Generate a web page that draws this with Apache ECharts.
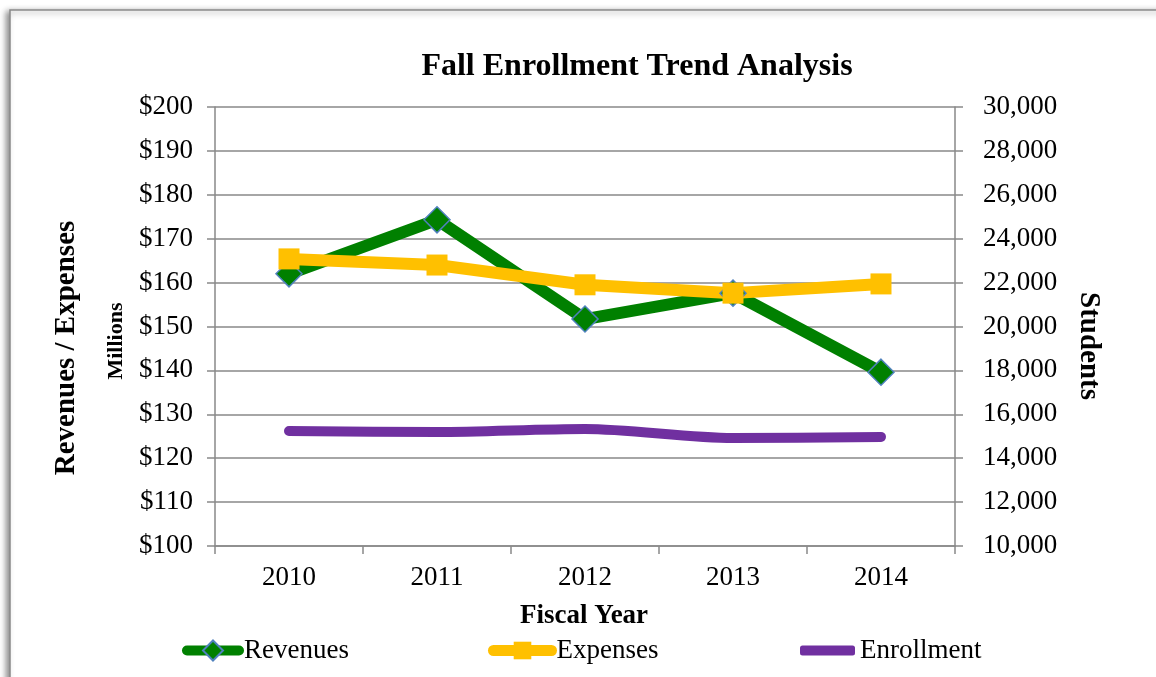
<!DOCTYPE html>
<html><head><meta charset="utf-8">
<script src="https://cdn.jsdelivr.net/npm/echarts@6/dist/echarts.min.js"></script>
<style>html,body{margin:0;padding:0;background:#fff}#c{width:1156px;height:677px}</style>
</head><body><div id="c"></div>
<script>
const years = ['2010','2011','2012','2013','2014'];
const revenues = [162.0, 174.3, 151.7, 157.6, 139.6];
const expenses = [165.4, 164.0, 159.5, 157.6, 159.7];
const enrollment = [15240, 15190, 15330, 14920, 14970];
const leftTicks = {min:100, max:200, interval:10};
const rightTicks = {min:10000, max:30000, interval:2000};

const F = 'Liberation Serif, Times New Roman, serif';
const gridColor = '#898989';
const LBL = 27;
const chart = echarts.init(document.getElementById('c'));
const legendText = {fontFamily:F, fontSize:LBL, color:'#000'};
chart.setOption({
  animation:false,
  backgroundColor:'#fff',
  title:{text:'Fall Enrollment Trend Analysis', left:632, top:46, textAlign:'center',
    textStyle:{fontFamily:F, fontWeight:'bold', fontSize:32, color:'#000'}},
  grid:{left:215, right:201, top:107, bottom:131},
  legend:[
    {data:['Revenues'], left:182, top:637, padding:0, itemWidth:52, itemHeight:25, itemGap:0,
     lineStyle:{width:10, cap:'round'}, textStyle:legendText},
    {data:['Expenses'], left:488, top:637, padding:0, itemWidth:58, itemHeight:22, itemGap:0,
     lineStyle:{width:11, cap:'round'}, textStyle:legendText},
    {data:[{name:'Enrollment', icon:'roundRect'}], left:800, top:637, padding:0, itemWidth:55, itemHeight:10, itemGap:0,
     textStyle:legendText}
  ],
  xAxis:{type:'category', data:years, boundaryGap:true,
    axisLine:{lineStyle:{color:gridColor, width:1.5}},
    axisTick:{show:true, length:8, lineStyle:{color:gridColor, width:1.5}},
    axisLabel:{fontFamily:F, fontSize:LBL, color:'#000', margin:18}},
  yAxis:[
    {type:'value', min:leftTicks.min, max:leftTicks.max, interval:leftTicks.interval, position:'left',
     axisLine:{show:true, lineStyle:{color:gridColor, width:1.5}},
     axisTick:{show:true, length:8, lineStyle:{color:gridColor, width:1.5}},
     splitLine:{show:true, lineStyle:{color:gridColor, width:1.5}},
     axisLabel:{fontFamily:F, fontSize:LBL, color:'#000', margin:22, formatter:v=>'$'+v}},
    {type:'value', min:rightTicks.min, max:rightTicks.max, interval:rightTicks.interval, position:'right',
     axisLine:{show:true, lineStyle:{color:gridColor, width:1.5}},
     axisTick:{show:true, length:8, lineStyle:{color:gridColor, width:1.5}},
     splitLine:{show:false},
     axisLabel:{fontFamily:F, fontSize:LBL, color:'#000', margin:28,
       formatter:v=>v.toLocaleString('en-US')}}
  ],
  graphic:[
    {type:'rect', z:-10, shape:{x:10, y:10, width:1170, height:700},
     style:{fill:'#fff', stroke:'#8a8a8a', lineWidth:1.5, shadowBlur:6, shadowColor:'rgba(0,0,0,0.45)', shadowOffsetX:-3, shadowOffsetY:2}},
    {type:'text', x:67, y:348, rotation:Math.PI/2,
     style:{text:'Revenues / Expenses', font:'bold 29px '+F, fill:'#000', textAlign:'center', textVerticalAlign:'middle'}},
    {type:'text', x:116, y:341, rotation:Math.PI/2,
     style:{text:'Millions', font:'bold 22px '+F, fill:'#000', textAlign:'center', textVerticalAlign:'middle'}},
    {type:'text', x:1088, y:346, rotation:-Math.PI/2,
     style:{text:'Students', font:'bold 29px '+F, fill:'#000', textAlign:'center', textVerticalAlign:'middle'}},
    {type:'text', x:584, y:616,
     style:{text:'Fiscal Year', font:'bold 27px '+F, fill:'#000', textAlign:'center', textVerticalAlign:'middle'}}
  ],
  series:[
    {name:'Revenues', type:'line', yAxisIndex:0, data:revenues,
     lineStyle:{color:'#008000', width:12},
     symbol:'diamond', symbolSize:26,
     itemStyle:{color:'#008000', borderColor:'#4f81bd', borderWidth:1.5}},
    {name:'Expenses', type:'line', yAxisIndex:0, data:expenses,
     lineStyle:{color:'#FFC000', width:12},
     symbol:'rect', symbolSize:21,
     itemStyle:{color:'#FFC000', borderColor:'#FFC000', borderWidth:0}},
    {name:'Enrollment', type:'line', yAxisIndex:1, data:enrollment, smooth:0.3,
     lineStyle:{color:'#7030A0', width:10, cap:'round'},
     symbol:'none', showSymbol:false,
     itemStyle:{color:'#7030A0'}}
  ]
});
</script></body></html>
